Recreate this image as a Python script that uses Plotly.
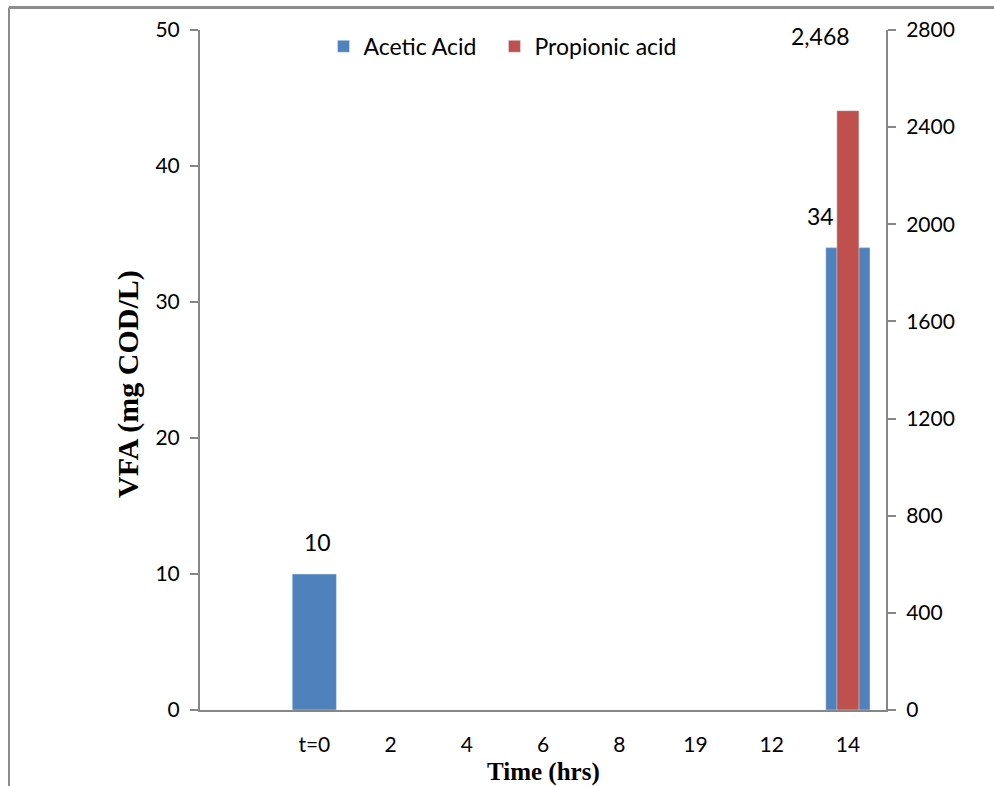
import plotly.graph_objects as go

categories = [" ", "t=0", "2", "4", "6", "8", "19", "12", "14"]
acetic = [None, 10, None, None, None, None, None, None, 34]
propionic = [None, None, None, None, None, None, None, None, 2468]

BLUE = "#4F81BD"
RED = "#C0504D"
AXIS = "#868686"
FONT = "Lato, Calibri, sans-serif"
SERIF = "Liberation Serif, Times New Roman, serif"

fig = go.Figure()
fig.add_trace(go.Bar(x=categories, y=acetic, name="Acetic Acid", marker_color=BLUE,
                     width=0.58, yaxis="y", legend="legend"))
fig.add_trace(go.Bar(x=categories, y=propionic, name="Propionic acid", marker_color=RED,
                     width=0.29, yaxis="y2", legend="legend2"))

# data labels (category axis -> use index positions)
for i, v in enumerate(acetic):
    if v is not None:
        shift_x = -27 if categories[i] == "14" else 3
        fig.add_annotation(x=i, y=v, xref="x", yref="y", text=f"{v:,}", showarrow=False,
                           xshift=shift_x, yshift=32, font=dict(family=FONT, size=23, color="black"))
for i, v in enumerate(propionic):
    if v is not None:
        fig.add_annotation(x=i, y=v, xref="x", yref="y2", text=f"{v:,}", showarrow=False,
                           xshift=-27, yshift=75, font=dict(family=FONT, size=23, color="black"))

# axis titles as annotations for exact placement
fig.add_annotation(x=-72/686, y=(710-384)/680, xref="paper", yref="paper", text="<b>VFA (mg COD/L)</b>",
                   textangle=-90, showarrow=False, xanchor="center", yanchor="middle",
                   font=dict(family=SERIF, size=30, color="black"))
fig.add_annotation(x=0.5, y=-62/680, xref="paper", yref="paper", text="<b>Time (hrs)</b>",
                   showarrow=False, xanchor="center", yanchor="middle",
                   font=dict(family=SERIF, size=25, color="black"))

leg_common = dict(orientation="h", xanchor="left", y=0.976, yanchor="middle",
                  font=dict(family=FONT, size=23, color="black"), itemwidth=30,
                  bgcolor="rgba(0,0,0,0)")

fig.update_layout(
    width=994, height=786,
    margin=dict(l=200, r=108, t=30, b=76),
    paper_bgcolor="white", plot_bgcolor="white",
    barmode="overlay",
    font=dict(family=FONT, size=21, color="black"),
    showlegend=True,
    legend=dict(x=0.18, **leg_common),
    legend2=dict(x=0.18 + 171/686, **leg_common),
    xaxis=dict(type="category", categoryorder="array", categoryarray=categories,
               range=[-0.5, len(categories) - 0.5], automargin=False,
               showline=True, linecolor=AXIS, linewidth=2, ticks="", showgrid=False,
               ticklabelstandoff=15, tickfont=dict(family=FONT, size=21),
               zeroline=False),
    yaxis=dict(range=[0, 50], dtick=10, showline=True, linecolor=AXIS, linewidth=2, automargin=False,
               ticks="outside", ticklen=8, tickcolor=AXIS, tickwidth=2, showgrid=False,
               zeroline=False, tickfont=dict(family=FONT, size=21), ticklabelstandoff=6),
    yaxis2=dict(range=[0, 2800], dtick=400, overlaying="y", side="right", showline=True, automargin=False,
                linecolor=AXIS, linewidth=2, ticks="outside", ticklen=8, tickcolor=AXIS,
                tickwidth=2, showgrid=False, zeroline=False, tickfont=dict(family=FONT, size=21),
                ticklabelstandoff=6),
)

# outer frame lines (top and left), in pixel-sized paper units
top_y = 1 + 22.5/680
left_x = -191/686
fig.add_shape(type="line", xref="paper", yref="paper", x0=left_x, x1=794/686, y0=top_y, y1=top_y,
              line=dict(color="#8C8C8C", width=3), layer="above")
fig.add_shape(type="line", xref="paper", yref="paper", x0=left_x, x1=left_x, y0=top_y, y1=-80/680,
              line=dict(color="#8C8C8C", width=2), layer="above")

fig.write_html("out.html")
